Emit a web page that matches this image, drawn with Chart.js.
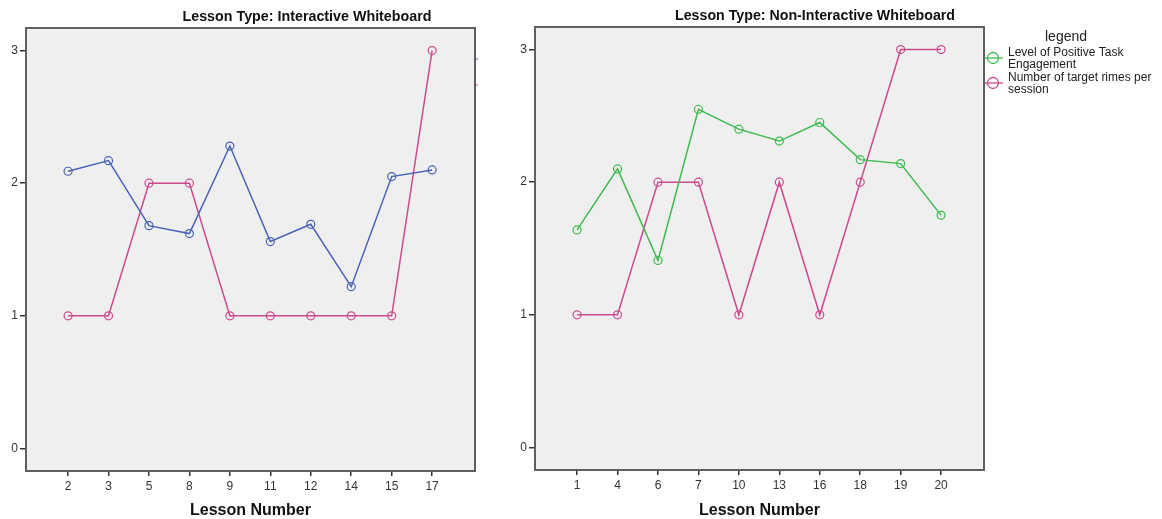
<!DOCTYPE html>
<html>
<head>
<meta charset="utf-8">
<script src="https://cdn.jsdelivr.net/npm/chart.js@4/dist/chart.umd.min.js"></script>
<style>
  body { margin: 0; background: #fff; }
  #wrap { position: relative; width: 1162px; height: 519px; overflow: hidden; }
  #left { position: absolute; left: 0; top: 0; }
  #right { position: absolute; left: 509px; top: 0; }
</style>
</head>
<body>
<div id="wrap">
  <canvas id="left" width="500" height="519"></canvas>
  <canvas id="right" width="653" height="519"></canvas>
</div>
<script>
// data
const lessonsIWB = ['2', '3', '5', '8', '9', '11', '12', '14', '15', '17'];
const engagementIWB = [2.09, 2.17, 1.68, 1.62, 2.28, 1.56, 1.69, 1.22, 2.05, 2.10];
const rimesIWB = [1, 1, 2, 2, 1, 1, 1, 1, 1, 3];

const lessonsNon = ['1', '4', '6', '7', '10', '13', '16', '18', '19', '20'];
const engagementNon = [1.64, 2.10, 1.41, 2.55, 2.40, 2.31, 2.45, 2.17, 2.14, 1.75];
const rimesNon = [1, 1, 2, 2, 1, 2, 1, 2, 3, 3];

const yTicks = [0, 1, 2, 3];
const seriesNames = ['Level of Positive Task Engagement', 'Number of target rimes per session'];

const BLUE = '#4a62b8';
const GREEN = '#3dbb4d';
const PINK = '#cc4b8e';
const FONT = '"Liberation Sans", Arial, sans-serif';

// grey plot area + frame
const framePlugin = {
    id: 'frame',
    beforeDraw(chart) {
        const { ctx, chartArea: a } = chart;
        ctx.save();
        ctx.fillStyle = '#efefef';
        ctx.fillRect(a.left, a.top, a.right - a.left, a.bottom - a.top);
        ctx.restore();
    },
    afterDraw(chart, args, opts) {
        const { ctx, chartArea: a } = chart;
        ctx.save();
        ctx.strokeStyle = '#5f5f5f';
        ctx.lineWidth = 2;
        ctx.strokeRect(a.left, a.top, a.right - a.left, a.bottom - a.top);
        // bits of a cut-off legend peeking past the left panel
        (opts.stubs || []).forEach(s => {
            ctx.strokeStyle = s.color;
            ctx.lineWidth = 1;
            ctx.beginPath();
            ctx.moveTo(a.right + 1, s.y);
            ctx.lineTo(a.right + 3, s.y);
            ctx.stroke();
        });
        ctx.restore();
    }
};

// panel heading, drawn at a fixed centre
const headingPlugin = {
    id: 'heading',
    afterDraw(chart, args, opts) {
        const ctx = chart.ctx;
        ctx.save();
        ctx.font = 'bold 15px ' + FONT;
        ctx.fillStyle = '#111';
        ctx.textAlign = 'center';
        ctx.textBaseline = 'middle';
        const w = ctx.measureText(opts.text).width;
        ctx.translate(opts.x, opts.y);
        ctx.scale(opts.width / w, 1);
        ctx.fillText(opts.text, 0, 0);
        ctx.restore();
    }
};

// SPSS style legend on the right
const sideLegendPlugin = {
    id: 'sideLegend',
    afterDraw(chart, args, opts) {
        if (!opts.items) return;
        const ctx = chart.ctx;
        ctx.save();
        ctx.fillStyle = '#222';
        ctx.font = '14px ' + FONT;
        ctx.textAlign = 'center';
        ctx.textBaseline = 'middle';
        ctx.fillText('legend', opts.x + 81, 37);

        ctx.font = '12px ' + FONT;
        ctx.textAlign = 'left';
        opts.items.forEach((item, i) => {
            const y = 58 + i * 25;
            ctx.strokeStyle = item.color;
            ctx.lineWidth = 1.3;
            ctx.beginPath();
            ctx.moveTo(opts.x, y);
            ctx.lineTo(opts.x + 18, y);
            ctx.stroke();
            ctx.beginPath();
            ctx.arc(opts.x + 8, y, 5.5, 0, Math.PI * 2);
            ctx.stroke();
            ctx.fillStyle = '#222';
            item.lines.forEach((t, j) => ctx.fillText(t, opts.x + 23, y - 5 + j * 12));
        });
        ctx.restore();
    }
};

function makeChart(id, lessons, engagement, rimes, engColor, heading, extra) {
    const toPoints = vals => vals.map((v, i) => ({ x: i, y: v }));
    const line = (label, vals, color) => ({
        label: label,
        data: toPoints(vals),
        borderColor: color,
        borderWidth: 1.5,
        pointRadius: 4,
        pointBorderWidth: 1.2,
        pointBackgroundColor: 'rgba(0,0,0,0)',
        pointBorderColor: color,
        tension: 0
    });

    return new Chart(document.getElementById(id), {
        type: 'line',
        data: {
            datasets: [
                line(seriesNames[0], engagement, engColor),
                line(seriesNames[1], rimes, PINK)
            ]
        },
        options: {
            responsive: false,
            animation: false,
            layout: { padding: { top: extra.top, right: extra.right, bottom: 0, left: 0 } },
            plugins: {
                legend: { display: false },
                tooltip: { enabled: false },
                heading: heading,
                frame: { stubs: extra.stubs || [] },
                sideLegend: extra.legend || {}
            },
            scales: {
                x: {
                    type: 'linear',
                    min: -1.04,
                    max: 10.06,
                    afterBuildTicks: s => { s.ticks = lessons.map((l, i) => ({ value: i })); },
                    afterFit: s => { s.height = extra.xHeight; },
                    ticks: {
                        callback: v => lessons[v],
                        font: { family: FONT, size: 12 },
                        color: '#333',
                        padding: 3,
                        maxRotation: 0
                    },
                    grid: { drawOnChartArea: false, drawTicks: true, tickLength: 5, color: '#333', lineWidth: 1.5 },
                    border: { display: false },
                    title: {
                        display: true,
                        text: 'Lesson Number',
                        font: { family: FONT, size: 16, weight: 'bold', lineHeight: 1 },
                        color: '#111',
                        padding: 0
                    }
                },
                y: {
                    min: -0.17,
                    max: 3.17,
                    afterBuildTicks: s => { s.ticks = yTicks.map(v => ({ value: v })); },
                    afterFit: s => { s.width = 26; },
                    ticks: {
                        font: { family: FONT, size: 12 },
                        color: '#333',
                        padding: 2
                    },
                    grid: { drawOnChartArea: false, drawTicks: true, tickLength: 6, color: '#333', lineWidth: 1.5 },
                    border: { display: false }
                }
            }
        },
        plugins: [framePlugin, headingPlugin, sideLegendPlugin]
    });
}

makeChart('left', lessonsIWB, engagementIWB, rimesIWB, BLUE,
    { text: 'Lesson Type: Interactive Whiteboard', x: 307, y: 17, width: 249 },
    { top: 28, right: 25, xHeight: 48, stubs: [{ y: 59, color: BLUE }, { y: 85, color: PINK }] });

makeChart('right', lessonsNon, engagementNon, rimesNon, GREEN,
    { text: 'Lesson Type: Non-Interactive Whiteboard', x: 306, y: 16, width: 280 },
    {
        top: 27, right: 178, xHeight: 49,
        legend: {
            x: 476,
            items: [
                { color: GREEN, lines: ['Level of Positive Task', 'Engagement'] },
                { color: PINK, lines: ['Number of target rimes per', 'session'] }
            ]
        }
    });
</script>
</body>
</html>
